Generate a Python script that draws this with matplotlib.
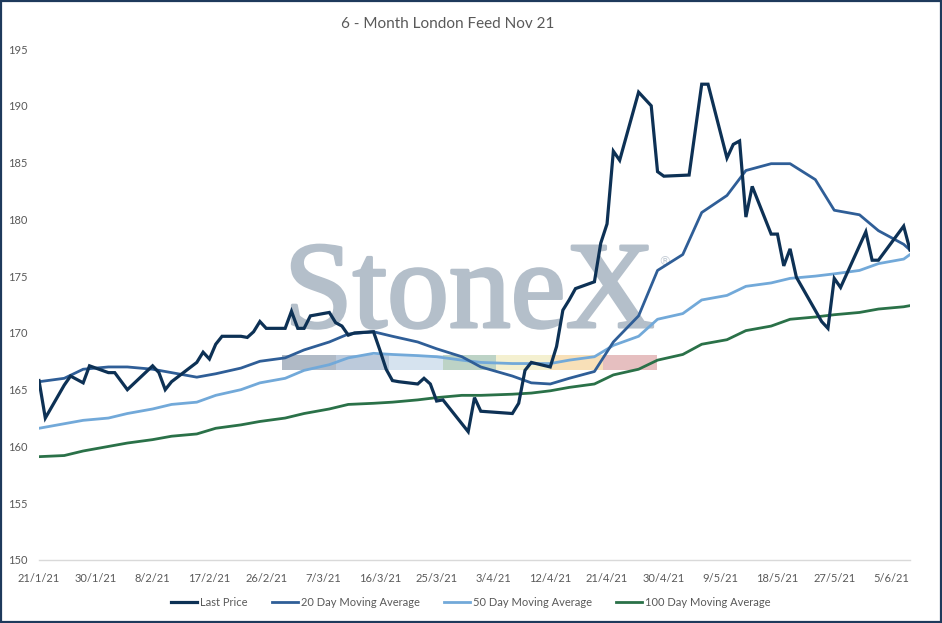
import matplotlib
matplotlib.use("Agg")
import matplotlib.pyplot as plt
import matplotlib.patheffects as pe
from matplotlib.patches import Rectangle
import pandas as pd

# Last Price (vertices)
price_dates = [
    '2021-01-21', '2021-01-22', '2021-01-25', '2021-01-26', '2021-01-28', '2021-01-29',
    '2021-02-01', '2021-02-02', '2021-02-04', '2021-02-08', '2021-02-09', '2021-02-10',
    '2021-02-11', '2021-02-15', '2021-02-16', '2021-02-17', '2021-02-18', '2021-02-19',
    '2021-02-22', '2021-02-23', '2021-02-24', '2021-02-25', '2021-02-26', '2021-03-01',
    '2021-03-02', '2021-03-03', '2021-03-04', '2021-03-05', '2021-03-08', '2021-03-09',
    '2021-03-10', '2021-03-11', '2021-03-12', '2021-03-15', '2021-03-16', '2021-03-17',
    '2021-03-18', '2021-03-19', '2021-03-22', '2021-03-23', '2021-03-24', '2021-03-25',
    '2021-03-26', '2021-03-30', '2021-03-31', '2021-04-01', '2021-04-06', '2021-04-07',
    '2021-04-08', '2021-04-09', '2021-04-12', '2021-04-13', '2021-04-14', '2021-04-15',
    '2021-04-16', '2021-04-19', '2021-04-20', '2021-04-21', '2021-04-22', '2021-04-23',
    '2021-04-26', '2021-04-28', '2021-04-29', '2021-04-30', '2021-05-04', '2021-05-06',
    '2021-05-07', '2021-05-10', '2021-05-11', '2021-05-12', '2021-05-13', '2021-05-14',
    '2021-05-17', '2021-05-18', '2021-05-19', '2021-05-20', '2021-05-21', '2021-05-25',
    '2021-05-26', '2021-05-27', '2021-05-28', '2021-06-01', '2021-06-02', '2021-06-03',
    '2021-06-07', '2021-06-08',
]
last_price = [
    165.8, 162.5, 165.4, 166.2, 165.6, 167.1,
    166.5, 166.5, 165.0, 167.1, 166.5, 165.0,
    165.7, 167.4, 168.3, 167.7, 169.0, 169.7,
    169.7, 169.6, 170.1, 171.0, 170.4, 170.4,
    171.9, 170.4, 170.4, 171.5, 171.8, 170.9,
    170.6, 169.8, 170.0, 170.1, 168.5, 166.8,
    165.8, 165.7, 165.5, 166.0, 165.5, 164.0,
    164.1, 161.3, 164.3, 163.1, 162.9, 163.8,
    166.7, 167.4, 167.0, 168.8, 172.0, 172.9,
    173.9, 174.5, 177.9, 179.6, 186.0, 185.2,
    191.2, 190.0, 184.2, 183.8, 183.9, 191.9,
    191.9, 185.4, 186.6, 186.9, 180.2, 182.9,
    178.7, 178.7, 175.9, 177.4, 174.9, 171.0,
    170.4, 174.8, 174.0, 178.9, 176.4, 176.4,
    179.4, 177.3,
]

# moving averages, sampled along the curves
ma_dates = [
    '2021-01-21', '2021-01-25', '2021-01-28', '2021-02-01', '2021-02-04', '2021-02-08',
    '2021-02-11', '2021-02-15', '2021-02-18', '2021-02-22', '2021-02-25', '2021-03-01',
    '2021-03-04', '2021-03-08', '2021-03-11', '2021-03-15', '2021-03-18', '2021-03-22',
    '2021-03-25', '2021-03-29', '2021-04-01', '2021-04-06', '2021-04-09', '2021-04-12',
    '2021-04-15', '2021-04-19', '2021-04-22', '2021-04-26', '2021-04-29', '2021-05-03',
    '2021-05-06', '2021-05-10', '2021-05-13', '2021-05-17', '2021-05-20', '2021-05-24',
    '2021-05-27', '2021-05-31', '2021-06-03', '2021-06-07', '2021-06-08',
]
ma20 = [
    165.7, 166.0, 166.8, 167.0, 167.0, 166.8,
    166.5, 166.1, 166.4, 166.9, 167.5, 167.8,
    168.5, 169.2, 169.9, 170.1, 169.7, 169.2,
    168.6, 167.9, 167.0, 166.2, 165.6, 165.5,
    166.0, 166.6, 169.2, 171.5, 175.5, 176.9,
    180.6, 182.1, 184.3, 184.9, 184.9, 183.5,
    180.8, 180.4, 179.0, 177.8, 177.3,
]
ma50 = [
    161.6, 162.0, 162.3, 162.5, 162.9, 163.3,
    163.7, 163.9, 164.5, 165.0, 165.6, 166.0,
    166.7, 167.2, 167.8, 168.2, 168.1, 168.0,
    167.9, 167.6, 167.4, 167.3, 167.3, 167.3,
    167.6, 167.9, 168.9, 169.7, 171.2, 171.7,
    172.9, 173.3, 174.1, 174.4, 174.8, 175.0,
    175.2, 175.5, 176.1, 176.5, 176.9,
]
ma100 = [
    159.1, 159.2, 159.6, 160.0, 160.3, 160.6,
    160.9, 161.1, 161.6, 161.9, 162.2, 162.5,
    162.9, 163.3, 163.7, 163.8, 163.9, 164.1,
    164.3, 164.5, 164.5, 164.6, 164.7, 164.9,
    165.2, 165.5, 166.3, 166.8, 167.6, 168.1,
    169.0, 169.4, 170.2, 170.6, 171.2, 171.4,
    171.6, 171.8, 172.1, 172.3, 172.4,
]

series_names = ['Last Price', '20 Day Moving Average', '50 Day Moving Average', '100 Day Moving Average']
colors = ['#0d3155', '#2f5e97', '#72a9d9', '#2a7148']
y_ticks = [150, 155, 160, 165, 170, 175, 180, 185, 190, 195]

text_color = '#595959'
plt.rcParams['font.family'] = ['Lato', 'DejaVu Sans']

W, H = 942, 623
fig = plt.figure(figsize=(W / 100, H / 100), dpi=100)


def fx(px):
    return px / W


def fy(py):
    return 1 - py / H


ax = fig.add_axes([fx(39), fy(560), fx(910) - fx(39), fy(49) - fy(560)])
ax.patch.set_alpha(0)

pdates = pd.to_datetime(price_dates)
mdts = pd.to_datetime(ma_dates)

ax.plot(pdates, last_price, color=colors[0], lw=2.3, label=series_names[0], zorder=5, solid_joinstyle='miter')
ax.plot(mdts, ma20, color=colors[1], lw=2.0, label=series_names[1], zorder=4)
ax.plot(mdts, ma50, color=colors[2], lw=2.0, label=series_names[2], zorder=3)
ax.plot(mdts, ma100, color=colors[3], lw=2.0, label=series_names[3], zorder=2)

ax.set_ylim(150, 195)
ax.set_yticks(y_ticks)
start = pdates[0]
ax.set_xlim(start, pdates[-1])
xt = [start + pd.Timedelta(days=9 * i) for i in range(16)]
ax.set_xticks(xt)
ax.set_xticklabels([f'{d.day}/{d.month}/{d.year % 100}' for d in xt])

for s in ['top', 'right', 'left']:
    ax.spines[s].set_visible(False)
ax.spines['bottom'].set_color('#d9d9d9')
ax.spines['bottom'].set_linewidth(1.0)
ax.tick_params(axis='both', length=0, labelsize=8, colors=text_color)
ax.tick_params(axis='x', pad=9)
ax.tick_params(axis='y', pad=8)

# StoneX watermark
wm = '#b4bfca'
ax.text(fx(284), fy(327), 'StoneX', transform=fig.transFigure, fontsize=89,
        family='Liberation Serif', color=wm, zorder=0.5, clip_on=False,
        path_effects=[pe.withStroke(linewidth=2.2, foreground=wm)])
ax.text(fx(658), fy(265), '\u00ae', transform=fig.transFigure, fontsize=9,
        family='DejaVu Sans', color='#c6ced7', zorder=0.5, clip_on=False)
bar_colors = ['#b0bac6', '#bccadb', '#d6e3ef', '#bdd3c6', '#f4f0d0', '#f8e0b8', '#e6bfc0']
seg = (657 - 282) / len(bar_colors)
for i, c in enumerate(bar_colors):
    ax.add_patch(Rectangle((fx(282 + i * seg), fy(370)), fx(seg), fy(355) - fy(370),
                           transform=fig.transFigure, facecolor=c, edgecolor='none',
                           zorder=0.5, clip_on=False))

fig.text(0.475, fy(24), '6 - Month London Feed Nov 21', ha='center', va='center',
         fontsize=11, color=text_color)

fig.legend(loc='center', bbox_to_anchor=(0.5, fy(602)), ncol=4, frameon=False,
           fontsize=8, handlelength=2.3, handletextpad=0.3, columnspacing=2.2,
           labelcolor=text_color)

fig.patches.append(Rectangle((0.001, 0.0015), 0.998, 0.997, transform=fig.transFigure,
                             fill=False, edgecolor='#1e3a5c', lw=1.6))

fig.savefig('out.png', dpi=100)
